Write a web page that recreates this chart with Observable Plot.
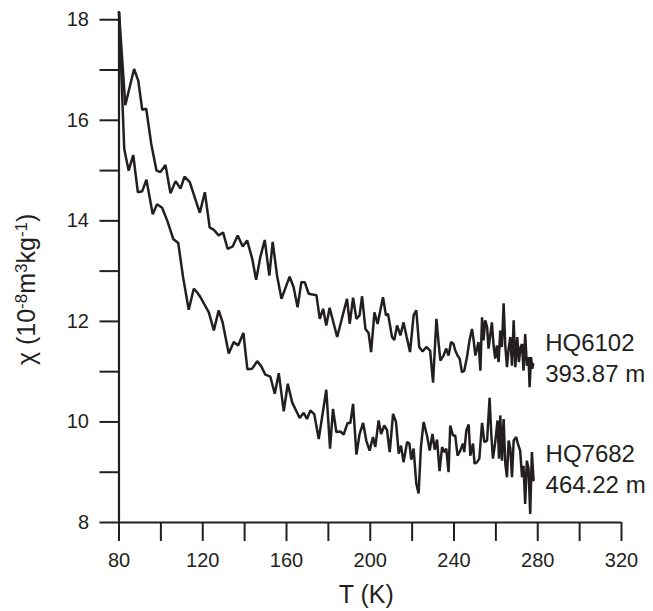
<!DOCTYPE html>
<html>
<head>
<meta charset="utf-8">
<script src="https://cdn.jsdelivr.net/npm/d3@7"></script>
<script src="https://cdn.jsdelivr.net/npm/@observablehq/plot@0.6"></script>
<style>
  html, body { margin: 0; padding: 0; background: #fff; }
  #chart svg { display: block; }
</style>
</head>
<body>
<div id="chart"></div>
<script>
// HQ6102 (393.87 m)
const tHQ6102 = [80,83,87.2,89.2,91.1,93,95.4,97.9,99.8,102.2,104.6,107,109.4,111.3,113.8,118.6,121,123.3,125.3,127.6,129.7,131.9,134.3,136.7,139.1,141.2,143.6,145.5,147.5,149.6,151.8,153.4,155.5,157.6,161.5,163.4,165.3,167.1,168.7,170.6,174.3,175.9,177.5,179.0,180.6,184.2,188.9,190.2,191.8,193.4,194.9,196.1,197.7,199.2,200.4,202.0,203.5,206.1,207.5,208.5,210.4,211.5,212.8,214.4,215.9,217.4,219.0,220.7,222.0,223.4,225.0,226.8,228.6,230.0,231.6,232.7,233.5,235.0,236.3,237.4,238.6,239.8,240.6,241.7,242.7,243.8,244.9,246.2,247.4,248.6,249.4,250.2,251.0,251.7,252.6,253.4,254.1,254.9,255.8,256.5,257.3,258.1,258.9,259.7,260.5,261.3,262.1,262.9,263.7,264.5,265.3,266.1,266.9,267.7,268.5,269.3,270.2,271.0,271.8,272.5,273.2,274.0,274.8,275.6,276.1,276.8,277.4,277.8];
const chiHQ6102 = [18.15,16.30,17.02,16.79,16.21,16.23,15.53,15.0,14.97,15.11,14.55,14.79,14.64,14.88,14.77,14.16,14.57,13.87,13.82,13.71,13.77,13.44,13.49,13.71,13.49,13.61,13.25,12.83,13.28,13.62,12.91,13.58,12.91,12.45,12.89,12.68,12.28,12.78,12.78,12.55,12.52,12.05,12.25,11.92,12.27,11.69,12.45,11.95,12.47,12.05,12.12,12.50,11.85,11.77,11.39,12.18,11.95,12.48,12.12,12.15,11.69,11.63,11.92,11.72,11.98,11.69,11.39,12.12,12.22,11.49,11.40,11.49,11.42,10.78,12.05,11.55,11.22,11.32,11.46,11.32,11.59,11.55,11.42,11.32,11.26,10.99,11.02,11.29,11.62,11.85,11.62,11.32,11.46,11.59,11.02,12.08,11.62,12.02,11.89,11.46,11.72,11.98,11.52,11.26,11.52,11.19,11.82,11.49,12.36,11.52,11.09,11.46,11.69,11.12,12.02,11.09,11.69,11.19,11.49,11.55,11.02,11.75,11.12,11.29,10.69,11.29,11.06,11.15];

// HQ7682 (464.22 m)
const tHQ7682 = [80,82.5,84.6,86.8,89,91.1,93.1,96.1,98.2,100.6,103,105.9,108.3,110.6,113.3,115.7,117.3,118.9,122.9,125.3,127.6,129.5,132.4,134.8,136.9,139.4,141.3,143.6,146.0,147.9,149.9,152.3,154.4,156.3,158.7,160.6,162.7,166.3,168.2,169.8,171.4,173.3,175.4,179.0,180.8,182.2,183.8,185.7,187.3,189.2,190.5,191.8,193.4,194.9,196.6,198.1,199.7,201.3,202.4,204.0,205.2,206.7,208.0,209.3,210.9,212.3,213.6,214.7,215.9,217.6,218.7,219.6,220.7,222.0,223.1,224.2,225.5,227.1,228.4,229.7,230.8,231.9,233.1,234.3,235.4,236.3,237.4,238.2,239.5,240.6,241.7,243.0,244.3,244.9,245.9,247.0,247.8,249.1,249.8,251.0,252.1,253.4,254.5,255.8,257.0,257.8,258.6,259.7,260.8,261.5,262.1,262.9,263.7,264.5,265.3,266.1,266.9,267.7,268.5,269.7,270.5,271.6,272.5,273.2,274.0,274.8,275.6,276.4,277.2,278.0];
const chiHQ7682 = [18.15,15.43,15.0,15.31,14.57,14.59,14.82,14.13,14.33,14.26,14.01,13.64,13.56,12.88,12.23,12.65,12.58,12.48,12.18,11.82,12.22,11.98,11.36,11.59,11.52,11.77,11.05,11.06,11.21,11.11,10.94,10.90,10.56,10.97,10.21,10.76,10.39,10.08,10.18,10.06,10.23,10.15,9.66,10.64,9.47,10.26,9.80,9.81,9.75,9.98,9.98,10.36,9.35,9.76,9.98,9.63,9.43,9.70,9.50,10.03,9.76,9.93,9.84,9.40,10.16,10.00,9.37,9.53,9.20,9.60,9.57,9.25,9.47,8.77,8.58,9.50,10.00,9.73,9.43,9.76,9.45,9.65,9.02,9.50,9.40,9.47,9.00,9.93,9.73,9.73,9.33,9.43,9.57,9.40,9.83,9.95,9.33,9.57,9.17,9.20,9.27,9.98,9.60,9.63,10.48,9.76,9.27,9.60,10.03,9.27,10.13,9.23,10.06,9.17,8.90,9.63,9.47,8.90,9.63,9.70,9.57,9.43,8.90,9.13,8.37,9.23,9.07,8.17,9.40,8.84];

const seriesNames = ["HQ6102", "HQ7682"];
const seriesLabels = ["HQ6102\n393.87 m", "HQ7682\n464.22 m"];
const xTicks = [80,100,120,140,160,180,200,220,240,260,280,300,320];
const yTicks = [8,9,10,11,12,13,14,15,16,17,18];
const xTitle = "T (K)";

const ink = "#231f20";
const font = "'Liberation Sans', Arial, Helvetica, sans-serif";

const rows = [
  ...tHQ6102.map((t, i) => ({series: seriesNames[0], T: t, chi: chiHQ6102[i]})),
  ...tHQ7682.map((t, i) => ({series: seriesNames[1], T: t, chi: chiHQ7682[i]}))
];
const ends = [
  {label: seriesLabels[0], T: tHQ6102.at(-1), chi: chiHQ6102.at(-1)},
  {label: seriesLabels[1], T: tHQ7682.at(-1), chi: chiHQ7682.at(-1)}
];

const plot = Plot.plot({
  width: 653,
  height: 611,
  marginLeft: 118.5,
  marginRight: 32,
  marginTop: 11.7,
  marginBottom: 89,
  style: {fontFamily: font, background: "#fff", color: ink},
  x: {domain: [80, 320]},
  y: {domain: [8, 18.15]},
  marks: [
    Plot.axisX({ticks: xTicks, tickSize: 19, strokeWidth: 2, tickPadding: 11, fontSize: 20,
      tickFormat: d => d % 40 === 0 ? String(d) : "", label: null, color: ink}),
    Plot.axisY({ticks: yTicks, tickSize: 19, strokeWidth: 2, tickPadding: 11, fontSize: 20,
      tickFormat: d => d % 2 === 0 ? String(d) : "", label: null, color: ink}),
    Plot.ruleX([80], {stroke: ink, strokeWidth: 2.2}),
    Plot.ruleY([8], {stroke: ink, strokeWidth: 2.2}),
    Plot.line(rows, {x: "T", y: "chi", z: "series", stroke: ink, strokeWidth: 2.5, strokeLinejoin: "miter"}),
    Plot.text(ends.slice(0,1), {x: "T", y: "chi", text: "label", textAnchor: "start", dx: 12, dy: -8,
      fontSize: 24, lineHeight: 1.3, fill: ink}),
    Plot.text(ends.slice(1), {x: "T", y: "chi", text: "label", textAnchor: "start", dx: 12, dy: -13,
      fontSize: 24, lineHeight: 1.3, fill: ink}),
    Plot.text([xTitle], {frameAnchor: "bottom", textAnchor: "middle", dy: 80, dx: -4, fontSize: 25, fill: ink}),
    Plot.text(["χ (10-8m3kg-1)"], {frameAnchor: "left", textAnchor: "middle", dx: -92, dy: 22, rotate: -90, fontSize: 25, fill: ink, className: "ytitle"})
  ]
});

document.getElementById("chart").append(plot);

// superscripts in the y title
const yt = d3.select(plot).select(".ytitle text");
yt.text(null);
const parts = [["χ (10", false], ["-8", true], ["m", false], ["3", true], ["kg", false], ["-1", true], [")", false]];
for (const [s, sup] of parts) {
  const ts = yt.append("tspan").text(s);
  if (sup) ts.attr("font-size", "17px").attr("baseline-shift", "45%");
}
</script>
</body>
</html>
